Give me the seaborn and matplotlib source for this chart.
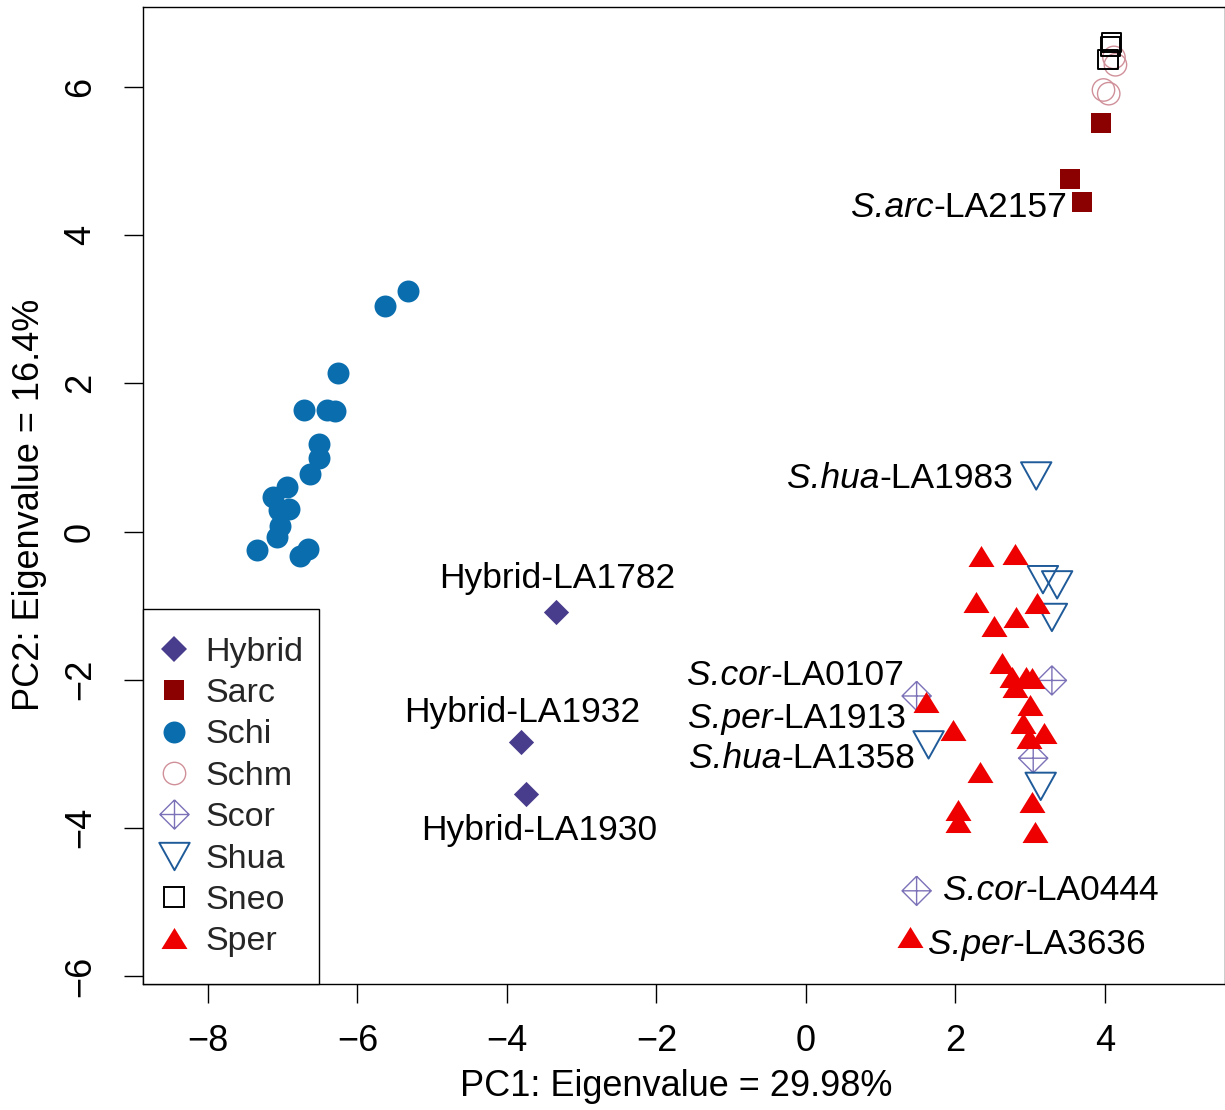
import matplotlib
matplotlib.use("Agg")
import matplotlib.pyplot as plt
import seaborn as sns
import pandas as pd
import numpy as np
from matplotlib.path import Path
from matplotlib.lines import Line2D
from matplotlib.patches import Rectangle
from matplotlib.offsetbox import TextArea, HPacker, AnnotationBbox

# ---------------- data ----------------
groups = ["Hybrid", "Sarc", "Schi", "Schm", "Scor", "Shua", "Sneo", "Sper"]

hybrid_x = [-3.34, -3.81, -3.75]
hybrid_y = [-1.09, -2.84, -3.54]

sarc_x = [3.95, 3.53, 3.69]
sarc_y = [5.52, 4.76, 4.45]

schi_x = [-5.32, -5.63, -6.26, -6.72, -6.41, -6.30, -6.52, -6.52, -6.63,
          -6.94, -7.13, -6.91, -7.05, -7.04, -7.08, -7.34, -6.66, -6.77]
schi_y = [3.25, 3.05, 2.14, 1.64, 1.64, 1.62, 1.18, 0.99, 0.78,
          0.60, 0.47, 0.31, 0.29, 0.07, -0.07, -0.25, -0.23, -0.33]

schm_x = [4.12, 4.14, 3.98, 4.05]
schm_y = [6.40, 6.30, 5.96, 5.91]

scor_x = [3.29, 1.48, 3.04, 1.48]
scor_y = [-2.01, -2.22, -3.06, -4.85]

shua_x = [3.17, 3.36, 3.29, 1.64, 3.14, 3.08]
shua_y = [-0.65, -0.72, -1.16, -2.88, -3.44, 0.75]

sneo_x = [4.09, 4.07, 4.04]
sneo_y = [6.60, 6.55, 6.37]

sper_x = [2.34, 2.79, 2.27, 3.09, 2.81, 2.52, 2.62, 2.75, 2.94, 3.02, 2.80,
          3.00, 1.61, 1.97, 2.91, 2.99, 3.18, 2.33, 2.04, 2.04, 3.03, 3.06, 1.39]
sper_y = [-0.33, -0.30, -0.95, -0.96, -1.15, -1.28, -1.78, -1.96, -1.96, -1.98, -2.10,
          -2.34, -2.30, -2.68, -2.59, -2.79, -2.72, -3.24, -3.76, -3.92, -3.65, -4.05, -5.47]

# point labels: italic species part + plain accession part
label_italic = ["S.arc", "S.hua", "", "S.cor", "S.per", "S.hua", "", "", "S.cor", "S.per"]
label_plain = ["-LA2157", "-LA1983", "Hybrid-LA1782", "-LA0107", "-LA1913", "-LA1358",
               "Hybrid-LA1932", "Hybrid-LA1930", "-LA0444", "-LA3636"]
label_x = [3.50, 2.77, -3.33, 1.31, 1.34, 1.46, -3.80, -3.57, 1.83, 1.63]
label_y = [4.37, 0.72, -0.63, -1.94, -2.52, -3.06, -2.44, -4.03, -4.84, -5.58]
label_ha = ["right", "right", "center", "right", "right", "right", "center", "center", "left", "left"]

xlabel = "PC1: Eigenvalue = 29.98%"
ylabel = "PC2: Eigenvalue = 16.4%"
xticks = [-8, -6, -4, -2, 0, 2, 4]
yticks = [-6, -4, -2, 0, 2, 4, 6]

# ---------------- styling ----------------
sns.set_theme(style="white")
plt.rcParams["font.family"] = ["Liberation Sans", "DejaVu Sans"]
plt.rcParams["axes.unicode_minus"] = True

FS = 26      # ticks / axis labels
AFS = 25.5   # point annotations
LFS = 24.5   # legend

up_tri = Path([(-1, -0.81), (1, -0.81), (0, 0.81), (-1, -0.81)],
              [Path.MOVETO, Path.LINETO, Path.LINETO, Path.CLOSEPOLY])
down_tri = Path([(-1, 0.9), (1, 0.9), (0, -0.9), (-1, 0.9)],
                [Path.MOVETO, Path.LINETO, Path.LINETO, Path.CLOSEPOLY])
diam_plus = Path([(0, 1), (1, 0), (0, -1), (-1, 0), (0, 1),
                  (-1, 0), (1, 0), (0, -1), (0, 1)],
                 [Path.MOVETO, Path.LINETO, Path.LINETO, Path.LINETO, Path.LINETO,
                  Path.MOVETO, Path.LINETO, Path.MOVETO, Path.LINETO])

styles = {
    "Hybrid": dict(x=hybrid_x, y=hybrid_y, marker="D", s=165, fc="#483C8C", ec="#483C8C", lw=0),
    "Sarc": dict(x=sarc_x, y=sarc_y, marker="s", s=207, fc="#8B0000", ec="#8B0000", lw=0),
    "Schi": dict(x=schi_x, y=schi_y, marker="o", s=250, fc="#0A6EAE", ec="#0A6EAE", lw=0),
    "Schm": dict(x=schm_x, y=schm_y, marker="o", s=260, fc="none", ec="#D0909A", lw=1.0),
    "Scor": dict(x=scor_x, y=scor_y, marker=diam_plus, s=440, fc="none", ec="#7C72B8", lw=1.0),
    "Shua": dict(x=shua_x, y=shua_y, marker=down_tri, s=480, fc="none", ec="#1F5A99", lw=1.4),
    "Sneo": dict(x=sneo_x, y=sneo_y, marker="s", s=190, fc="none", ec="black", lw=1.4),
    "Sper": dict(x=sper_x, y=sper_y, marker=up_tri, s=350, fc="#EE0000", ec="#EE0000", lw=0),
}

W, H = 1225, 1110
fig = plt.figure(figsize=(W / 100, H / 100), dpi=100)
AX_L, AX_R, AX_T, AX_B = 142.5, 1224.5, 7, 983.5
ax = fig.add_axes([AX_L / W, (H - AX_B) / H, (AX_R - AX_L) / W, (AX_B - AX_T) / H])
aw, ah = AX_R - AX_L, AX_B - AX_T

for g in groups:
    st = styles[g]
    df = pd.DataFrame({"x": st["x"], "y": st["y"]})
    sns.scatterplot(data=df, x="x", y="y", ax=ax, marker=st["marker"], s=st["s"],
                    facecolor=st["fc"], edgecolor=st["ec"], linewidth=st["lw"],
                    legend=False, zorder=3)

align_x = {"right": 1.0, "center": 0.5, "left": 0.0}
for it, pl, x, y, ha in zip(label_italic, label_plain, label_x, label_y, label_ha):
    parts = []
    if it:
        parts.append(TextArea(it, textprops=dict(fontsize=AFS, style="italic", color="black")))
    parts.append(TextArea(pl, textprops=dict(fontsize=AFS, color="black")))
    box = HPacker(children=parts, align="baseline", pad=0, sep=0)
    ab = AnnotationBbox(box, (x, y), xycoords="data", box_alignment=(align_x[ha], 0.5),
                        frameon=False, pad=0, zorder=4)
    ax.add_artist(ab)

ax.set_xlim(-8.876, 5.599)
ax.set_ylim(-6.101, 7.080)
ax.set_xticks(xticks)
ax.set_yticks(yticks)
ax.set_xticklabels([f"{v}".replace("-", "\u2212") for v in xticks], fontsize=FS)
ax.set_yticklabels([f"{v}".replace("-", "\u2212") for v in yticks], fontsize=FS,
                   rotation=90, va="center")
ax.tick_params(axis="both", direction="out", length=14, width=1.0, color="black",
               labelcolor="black", left=True, bottom=True)
ax.tick_params(axis="x", pad=15.5)
ax.tick_params(axis="y", pad=18)
for sp in ax.spines.values():
    sp.set_visible(True)
    sp.set_color("black")
    sp.set_linewidth(1.0)
ax.grid(False)

ax.set_xlabel(xlabel, fontsize=FS, color="black")
ax.set_ylabel(ylabel, fontsize=FS, color="black")
ax.xaxis.label.set_verticalalignment("center")
ax.yaxis.label.set_verticalalignment("center")
ax.xaxis.set_label_coords(0.493, -0.105)
ax.yaxis.set_label_coords(-0.104, 0.4905)

# legend box (frame) in axes coordinates
LB_R, LB_T = 319, 609
frame = Rectangle((0, 0), (LB_R - AX_L) / aw, (AX_B - LB_T) / ah, transform=ax.transAxes,
                  facecolor="white", edgecolor="black", linewidth=1.0, zorder=5, clip_on=False)
ax.add_patch(frame)

handles = []
for g in groups:
    st = styles[g]
    handles.append(Line2D([], [], linestyle="none", marker=st["marker"],
                          markersize=np.sqrt(st["s"]),
                          markerfacecolor=st["fc"], markeredgecolor=st["ec"],
                          markeredgewidth=st["lw"], label=g))
lfs_px = LFS * 100 / 72
hl = 0.6
leg = ax.legend(handles=handles, loc="center left",
                bbox_to_anchor=((174 - hl * lfs_px / 2 - AX_L) / aw, (AX_B - (651 + 943) / 2) / ah),
                borderaxespad=0, borderpad=0, fontsize=LFS, frameon=False,
                labelspacing=0.305, handlelength=hl, handletextpad=(205 - 174 - hl * lfs_px / 2) / lfs_px)
leg.set_zorder(6)

fig.savefig("out.png", dpi=100)
